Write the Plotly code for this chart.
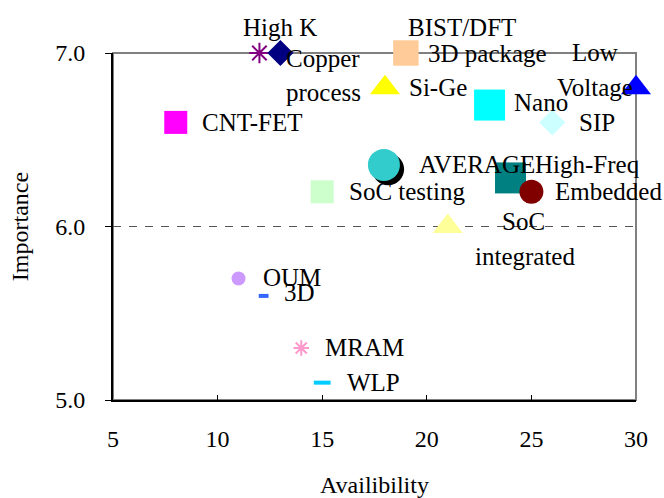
import plotly.graph_objects as go

# ---- data ----
names = ["High K", "Copper process", "BIST/DFT", "3D package", "Si-Ge", "Low Voltage",
         "CNT-FET", "Nano", "SIP", "AVERAGE shadow", "AVERAGE", "High-Freq", "SoC testing",
         "Embedded", "SoC integrated", "OUM", "3D", "MRAM", "WLP"]
availability = [12, 13, 19, 19, 18, 30, 8, 23, 26, 18.15, 17.95, 24, 15, 25, 21, 11, 12.2, 14, 15]
importance = [7.0, 7.0, 7.0, 7.0, 6.8, 6.8, 6.6, 6.7, 6.6, 6.33, 6.355, 6.28, 6.2, 6.2, 6.0,
              5.7, 5.6, 5.3, 5.1]
x_ticks = [5, 10, 15, 20, 25, 30]
y_ticks = [5.0, 6.0, 7.0]

# ---- styles (symbol, size, color, line width) ----
styles = {
    "High K": ("asterisk-open", 17, "#800080", 2),
    "Copper process": ("diamond", 20, "#000080", 0),
    "BIST/DFT": ("square", 25, "#ffcc99", 0),
    "3D package": ("square", 25, "#ffcc99", 0),
    "Si-Ge": ("triangle-up", 26, "#ffff00", 0),
    "Low Voltage": ("triangle-up", 26, "#0000ff", 0),
    "CNT-FET": ("square", 23, "#ff00ff", 0),
    "Nano": ("square", 31, "#00ffff", 0),
    "SIP": ("diamond", 20, "#ccffff", 0),
    "AVERAGE shadow": ("circle", 32, "#000000", 0),
    "AVERAGE": ("circle", 32, "#33cccc", 0),
    "High-Freq": ("square", 31, "#008080", 0),
    "SoC testing": ("square", 23, "#ccffcc", 0),
    "Embedded": ("circle", 24, "#800000", 0),
    "SoC integrated": ("triangle-up", 26, "#ffff99", 0),
    "OUM": ("circle", 14, "#cc99ff", 0),
    "3D": ("line-ew-open", 7, "#3366ff", 4),
    "MRAM": ("asterisk-open", 13, "#ff99cc", 2),
    "WLP": ("line-ew-open", 12, "#00ccff", 4),
}

# label placement: (point name, text, xanchor, dx px, dy px (down positive))
label_layout = [
    ("High K", "High K", "center", 21, -26),
    ("Copper process", "Copper", "left", 4, 5),
    ("Copper process", "process", "left", 4, 39),
    ("BIST/DFT", "BIST/DFT", "left", 0, -26),
    ("3D package", "3D package", "left", 20, 0),
    ("Si-Ge", "Si-Ge", "left", 22, 0),
    ("Low Voltage", "Low", "center", -41, -35),
    ("Low Voltage", "Voltage", "center", -41, 0),
    ("CNT-FET", "CNT-FET", "left", 24, 0),
    ("Nano", "Nano", "left", 22, -3),
    ("SIP", "SIP", "left", 25, 0),
    ("AVERAGE", "AVERAGE", "left", 33, 0),
    ("High-Freq", "High-Freq", "left", 23, -13),
    ("Embedded", "Embedded", "left", 22, 0),
    ("SoC testing", "SoC testing", "left", 25, 0),
    ("SoC integrated", "SoC", "center", 76, -5),
    ("SoC integrated", "integrated", "center", 77, 30),
    ("OUM", "OUM", "left", 22, -1),
    ("3D", "3D", "left", 18, -3),
    ("MRAM", "MRAM", "left", 22, 0),
    ("WLP", "WLP", "left", 23, 0),
]

FONT = "Liberation Serif, Times New Roman, serif"

fig = go.Figure()
for n, xv, yv in zip(names, availability, importance):
    sym, size, col, lw = styles[n]
    fig.add_trace(go.Scatter(
        x=[xv], y=[yv], mode="markers", name=n, cliponaxis=False,
        marker=dict(symbol=sym, size=size, color=col,
                    line=dict(width=lw, color=col)),
    ))

idx = {n: i for i, n in enumerate(names)}
annotations = []
for n, text, xa, dx, dy in label_layout:
    i = idx[n]
    annotations.append(dict(
        x=availability[i], y=importance[i], xref="x", yref="y", text=text,
        showarrow=False, xanchor=xa, yanchor="middle", xshift=dx, yshift=-dy,
        font=dict(family=FONT, size=25, color="black"),
    ))

fig.update_layout(
    width=664, height=498,
    margin=dict(l=113, r=28, t=53, b=98, autoexpand=False),
    paper_bgcolor="white", plot_bgcolor="white",
    showlegend=False,
    font=dict(family=FONT, size=24, color="black"),
    annotations=annotations,
    shapes=[dict(type="rect", xref="paper", yref="paper", x0=0, y0=0, x1=1, y1=1,
                 line=dict(color="#808080", width=2), layer="below")],
    xaxis=dict(
        range=[5, 30], tickvals=x_ticks, ticktext=[str(v) for v in x_ticks],
        showgrid=False, zeroline=False,
        showline=True, linecolor="black", linewidth=2,
        ticks="inside", ticklen=5, tickcolor="black", tickwidth=1,
        ticklabelstandoff=16, automargin=False,
        title=dict(text="Availibility", standoff=32,
                   font=dict(family=FONT, size=24)),
        tickfont=dict(family=FONT, size=24),
    ),
    yaxis=dict(
        range=[5, 7], tickvals=y_ticks, ticktext=[f"{v:.1f}" for v in y_ticks],
        showgrid=True, gridcolor="#555555", gridwidth=1, griddash="8px,8px",
        zeroline=False,
        showline=True, linecolor="black", linewidth=2,
        ticks="outside", ticklen=6, tickcolor="black", tickwidth=1,
        ticklabelstandoff=15, automargin=False,
        title=dict(text="Importance", standoff=20,
                   font=dict(family=FONT, size=24)),
        tickfont=dict(family=FONT, size=24),
    ),
)

fig.write_html("out.html")
